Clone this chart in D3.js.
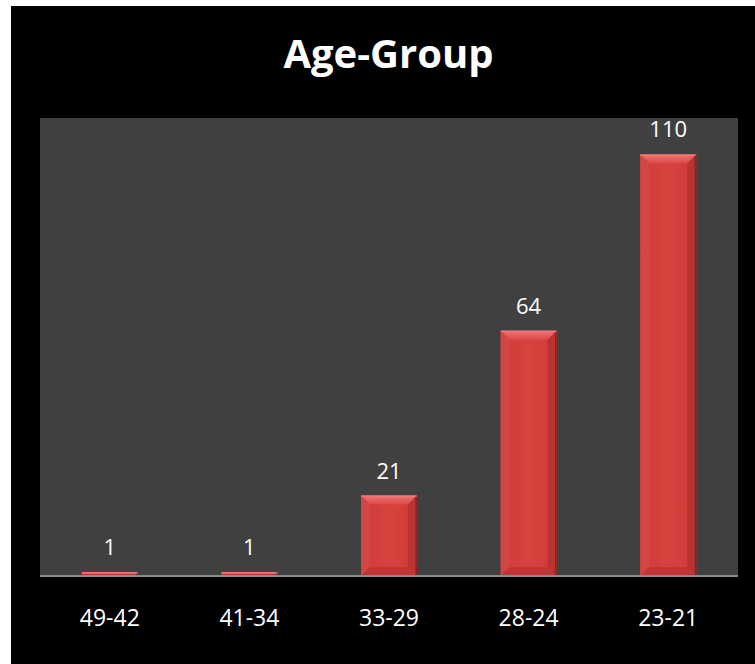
<!DOCTYPE html>
<html><head><meta charset="utf-8">
<script src="https://cdn.jsdelivr.net/npm/d3@7"></script>
<style>html,body{margin:0;padding:0;background:#fff;}svg{display:block;}</style>
</head><body>
<svg id="c" width="755" height="664"></svg>
<script>
const categories = ["49-42","41-34","33-29","28-24","23-21"];
const values = [1,1,21,64,110];
const title = "Age-Group";

const svg = d3.select("#c");
svg.append("rect").attr("x",11).attr("y",6).attr("width",744).attr("height",658).attr("fill","#000");

const plot = {x0:40, x1:738, y0:118, y1:576};
svg.append("rect").attr("x",plot.x0).attr("y",plot.y0).attr("width",plot.x1-plot.x0).attr("height",plot.y1-plot.y0).attr("fill","#404040");

const x = d3.scaleBand().domain(categories).range([plot.x0,plot.x1]).paddingInner(0.6).paddingOuter(0.3);
const y = d3.scaleLinear().domain([0,119.5]).range([plot.y1,plot.y0]);

const defs = svg.append("defs");
const g1 = defs.append("linearGradient").attr("id","face").attr("x1",0).attr("y1",0).attr("x2",1).attr("y2",0);
g1.append("stop").attr("offset",0).attr("stop-color","#cf3b39");
g1.append("stop").attr("offset",0.5).attr("stop-color","#d8423f");
g1.append("stop").attr("offset",1).attr("stop-color","#cf3b39");
const g2 = defs.append("linearGradient").attr("id","topb").attr("x1",0).attr("y1",0).attr("x2",0).attr("y2",1);
g2.append("stop").attr("offset",0).attr("stop-color","#ee7472");
g2.append("stop").attr("offset",1).attr("stop-color","#dd4a48");

const bars = svg.append("g");
categories.forEach((c,i)=>{
  const bx = x(c), bw = x.bandwidth(), top = y(values[i]), bot = y(0);
  const h = bot-top;
  const b = Math.min(9, h/2, bw/2);
  const g = bars.append("g");
  g.append("rect").attr("x",bx).attr("y",top).attr("width",bw).attr("height",h).attr("fill","url(#face)");
  g.append("polygon").attr("points",`${bx},${top} ${bx+bw},${top} ${bx+bw-b},${top+b} ${bx+b},${top+b}`).attr("fill","url(#topb)");
  g.append("polygon").attr("points",`${bx},${top} ${bx+b},${top+b} ${bx+b},${bot-b} ${bx},${bot}`).attr("fill","#d24644");
  g.append("polygon").attr("points",`${bx+bw},${top} ${bx+bw-b},${top+b} ${bx+bw-b},${bot-b} ${bx+bw},${bot}`).attr("fill","#b83331");
  g.append("polygon").attr("points",`${bx},${bot} ${bx+b},${bot-b} ${bx+bw-b},${bot-b} ${bx+bw},${bot}`).attr("fill","#c13634");
  g.append("rect").attr("x",bx+bw-1.5).attr("y",top).attr("width",1.5).attr("height",h).attr("fill","#8e2422");
  g.append("rect").attr("x",bx).attr("y",top).attr("width",bw).attr("height",1.2).attr("fill","#ee7b79");
});

svg.append("line").attr("x1",plot.x0).attr("x2",plot.x1).attr("y1",plot.y1).attr("y2",plot.y1).attr("stroke","#8a8a8a").attr("stroke-width",2);

svg.append("g").selectAll("text").data(values).join("text")
  .attr("x",(d,i)=>x(categories[i])+x.bandwidth()/2)
  .attr("y",d=>y(d)-17)
  .attr("text-anchor","middle").attr("fill","#fff")
  .style("font-family","'Open Sans', sans-serif").style("font-size","22px")
  .text(d=>d);

const ax = svg.append("g").attr("transform",`translate(0,${plot.y1})`).call(d3.axisBottom(x).tickSize(0).tickPadding(34));
ax.select(".domain").remove();
ax.selectAll("text").attr("fill","#fff").style("font-family","'Open Sans', sans-serif").style("font-size","23px");

svg.append("text").attr("x",388.5).attr("y",68).attr("text-anchor","middle").attr("fill","#fff")
  .style("font-family","'Open Sans', sans-serif").style("font-weight","bold").style("font-size","40px").text(title);
</script>
</body></html>
